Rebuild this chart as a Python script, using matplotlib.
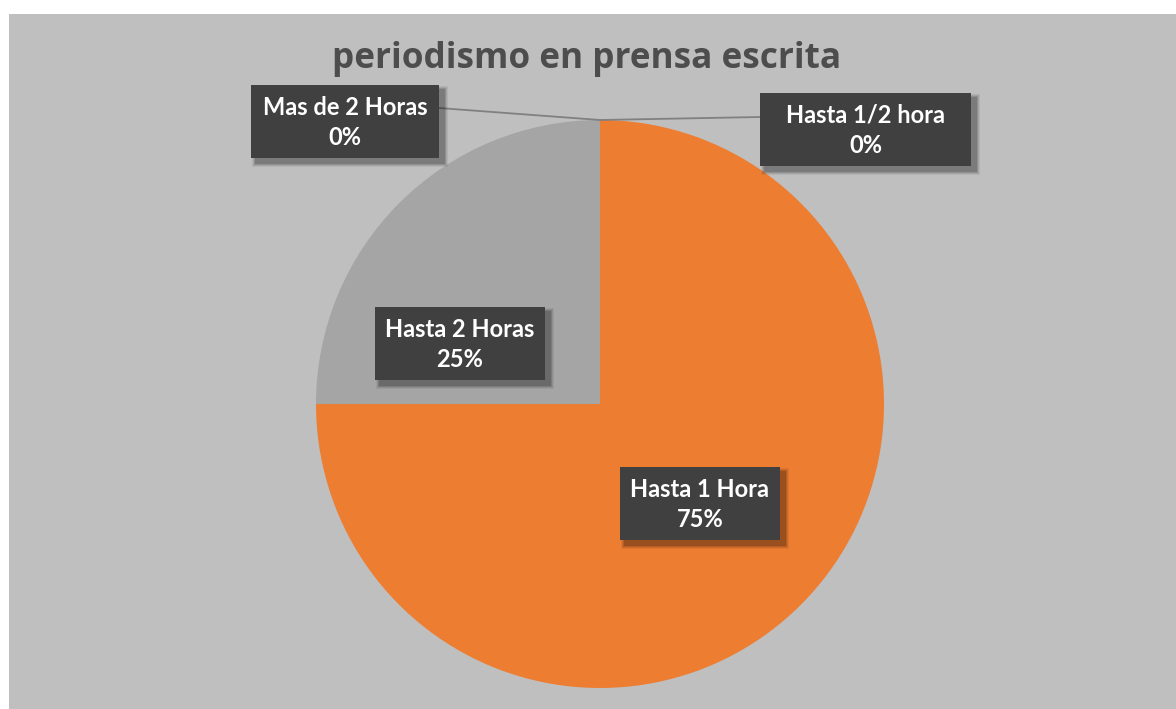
import matplotlib
matplotlib.use("Agg")
import matplotlib.pyplot as plt
from matplotlib.patches import Rectangle

title = "periodismo en prensa escrita"
categories = ["Hasta 1/2 hora", "Hasta 1 Hora", "Hasta 2 Horas", "Mas de 2 Horas"]
values = [0, 3, 1, 0]
colors = ["#4472C4", "#ED7D31", "#A5A5A5", "#FFC000"]

W, H = 1176, 709
plt.rcParams["hatch.color"] = "#505050"
plt.rcParams["hatch.linewidth"] = 0.8
fig = plt.figure(figsize=(W / 100, H / 100), dpi=100)
fig.patch.set_facecolor("white")
ax = fig.add_axes([0, 0, 1, 1])

# chart area background
ax.add_patch(Rectangle((9, 0), W - 9, H - 14, facecolor="#BFBFBF", edgecolor="none", zorder=0))

cx, cy, r = 600, H - 404, 284
ax.pie(values, colors=colors, startangle=90, counterclock=False,
       center=(cx, cy), radius=r, frame=True,
       wedgeprops=dict(linewidth=0, zorder=2))
ax.set_xlim(0, W)
ax.set_ylim(0, H)
ax.axis("off")

total = sum(values)
# label boxes: (x0, x1, y_top, y_bottom) in pixel coords from top
boxes = {
    "Hasta 1/2 hora": (760, 971, 93, 166),
    "Hasta 1 Hora": (620, 780, 467, 540),
    "Hasta 2 Horas": (375, 545, 307, 380),
    "Mas de 2 Horas": (251, 439, 85, 158),
}

# leader lines from pie top to zero-value labels
top = (cx, cy + r)
ax.plot([top[0], 439], [top[1], H - 108], color="#808080", lw=1.3, zorder=3)
ax.plot([top[0], 760], [top[1], H - 117], color="#808080", lw=1.3, zorder=3)

for cat, v in zip(categories, values):
    x0, x1, yt, yb = boxes[cat]
    w, h = x1 - x0, yb - yt
    y0 = H - yb
    # soft shadow
    for k, a in [(8, 0.06), (6, 0.08), (4, 0.12), (2, 0.14)]:
        ax.add_patch(Rectangle((x0 + 5 - k / 2, y0 - 5 - k / 2), w + k, h + k,
                               facecolor="#000000", alpha=a, edgecolor="none", zorder=4))
    ax.add_patch(Rectangle((x0, y0), w, h, facecolor="#404040", edgecolor="none",
                           hatch="...", zorder=5))
    pct = f"{round(100 * v / total)}%"
    ax.text(x0 + w / 2, y0 + h / 2 - 1, f"{cat}\n{pct}", ha="center", va="center",
            color="white", fontsize=17, fontweight="bold", family="Lato",
            linespacing=1.38, zorder=6)

ax.text(587, H - 59, title, ha="center", va="center", color="#4D4D4D",
        fontsize=25.3, fontweight="bold", family="Open Sans", zorder=6)

fig.savefig("out.png", dpi=100)
